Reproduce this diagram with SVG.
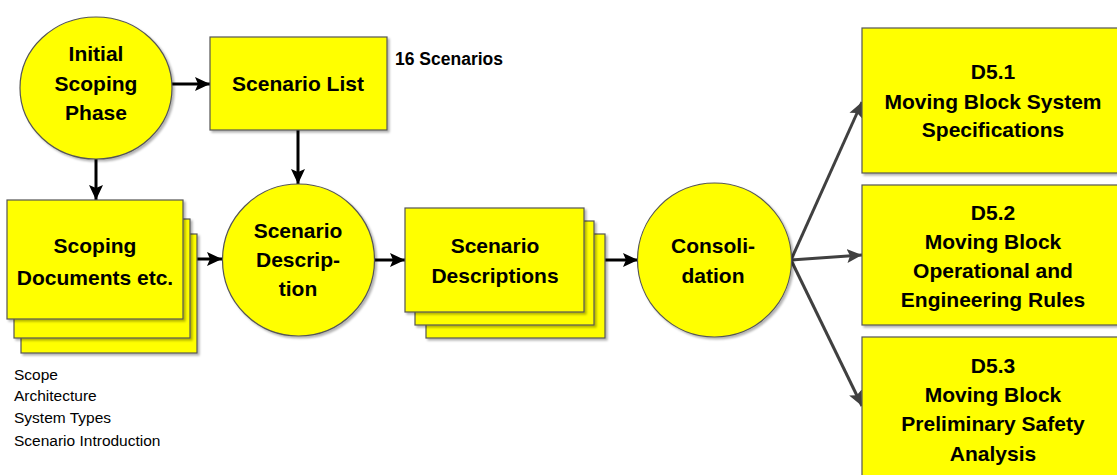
<svg xmlns="http://www.w3.org/2000/svg" width="1117" height="475" viewBox="0 0 1117 475">
  <defs>
    <filter id="shadow" x="-10%" y="-10%" width="130%" height="130%">
      <feDropShadow dx="2" dy="2" stdDeviation="1.2" flood-color="#000" flood-opacity="0.3"/>
    </filter>
    <marker id="arrowBlack" markerUnits="userSpaceOnUse" markerWidth="16" markerHeight="16" refX="15" refY="8" orient="auto">
      <path d="M0,1 L15,8 L0,15 L3,8 z" fill="#000"/>
    </marker>
    <marker id="arrowGray" markerUnits="userSpaceOnUse" markerWidth="16" markerHeight="16" refX="15" refY="8" orient="auto">
      <path d="M0,1 L15,8 L0,15 L3,8 z" fill="#404040"/>
    </marker>
  </defs>
  <style>
    .shape { fill: #ffff00; stroke: #555; stroke-width: 1.2; filter: url(#shadow); }
    .label { font-family: "Liberation Sans", Arial, sans-serif; font-weight: bold; font-size: 21px; fill: #000; text-anchor: middle; }
    .note { font-family: "Liberation Sans", Arial, sans-serif; font-size: 15.5px; fill: #000; }
    .arrow { stroke: #000; stroke-width: 3; fill: none; marker-end: url(#arrowBlack); }
    .arrowGray { stroke: #404040; stroke-width: 3; fill: none; marker-end: url(#arrowGray); }
  </style>

  <!-- connectors -->
  <g id="connectors">
    <line class="arrow" x1="172" y1="84" x2="210" y2="84"/>
    <line class="arrow" x1="96" y1="159" x2="96" y2="200"/>
    <line class="arrow" x1="298" y1="130" x2="298" y2="184"/>
    <line class="arrow" x1="183" y1="259" x2="222" y2="259"/>
    <line class="arrow" x1="375" y1="260" x2="405" y2="260"/>
    <line class="arrow" x1="605" y1="260" x2="638" y2="260"/>
    <line class="arrowGray" x1="791" y1="260" x2="862" y2="102"/>
    <line class="arrowGray" x1="791" y1="260" x2="862" y2="255"/>
    <line class="arrowGray" x1="791" y1="260" x2="862" y2="406"/>
  </g>

  <!-- Initial Scoping Phase -->
  <g id="initial-scoping-phase">
    <ellipse class="shape" cx="96" cy="88" rx="76" ry="71"/>
    <text class="label" x="96" y="61">Initial</text>
    <text class="label" x="96" y="91">Scoping</text>
    <text class="label" x="96" y="120">Phase</text>
  </g>

  <!-- Scenario List -->
  <g id="scenario-list">
    <rect class="shape" x="210" y="37" width="177" height="93"/>
    <text class="label" x="298" y="91">Scenario List</text>
    <text class="label" x="395" y="65" style="text-anchor:start;font-size:17.5px">16 Scenarios</text>
  </g>

  <!-- Scoping Documents etc. -->
  <g id="scoping-documents">
    <rect class="shape" x="21" y="234" width="176" height="119"/>
    <rect class="shape" x="14" y="219" width="176" height="119"/>
    <rect class="shape" x="7" y="200" width="176" height="119"/>
    <text class="label" x="95" y="253">Scoping</text>
    <text class="label" x="95" y="285">Documents etc.</text>
    <text class="note" x="14" y="380">Scope</text>
    <text class="note" x="14" y="401">Architecture</text>
    <text class="note" x="14" y="423">System Types</text>
    <text class="note" x="14" y="446">Scenario Introduction</text>
  </g>

  <!-- Scenario Description -->
  <g id="scenario-description">
    <circle class="shape" cx="298.5" cy="260" r="76"/>
    <text class="label" x="298" y="238">Scenario</text>
    <text class="label" x="298" y="267">Descrip-</text>
    <text class="label" x="298" y="296">tion</text>
  </g>

  <!-- Scenario Descriptions -->
  <g id="scenario-descriptions">
    <rect class="shape" x="426" y="234" width="179" height="104"/>
    <rect class="shape" x="415" y="221" width="179" height="104"/>
    <rect class="shape" x="405" y="208" width="179" height="104"/>
    <text class="label" x="495" y="253">Scenario</text>
    <text class="label" x="495" y="283">Descriptions</text>
  </g>

  <!-- Consolidation -->
  <g id="consolidation">
    <circle class="shape" cx="714.5" cy="260" r="77"/>
    <text class="label" x="713" y="253">Consoli-</text>
    <text class="label" x="713" y="283">dation</text>
  </g>

  <!-- D5.1 -->
  <g id="d5-1">
    <rect class="shape" x="862" y="28" width="270" height="145"/>
    <text class="label" x="993" y="79">D5.1</text>
    <text class="label" x="993" y="109">Moving Block System</text>
    <text class="label" x="993" y="137">Specifications</text>
  </g>

  <!-- D5.2 -->
  <g id="d5-2">
    <rect class="shape" x="862" y="185" width="270" height="140"/>
    <text class="label" x="993" y="220">D5.2</text>
    <text class="label" x="993" y="249">Moving Block</text>
    <text class="label" x="993" y="278">Operational and</text>
    <text class="label" x="993" y="307">Engineering Rules</text>
  </g>

  <!-- D5.3 -->
  <g id="d5-3">
    <rect class="shape" x="862" y="337" width="270" height="160"/>
    <text class="label" x="993" y="373">D5.3</text>
    <text class="label" x="993" y="402">Moving Block</text>
    <text class="label" x="993" y="431">Preliminary Safety</text>
    <text class="label" x="993" y="461">Analysis</text>
  </g>
</svg>
